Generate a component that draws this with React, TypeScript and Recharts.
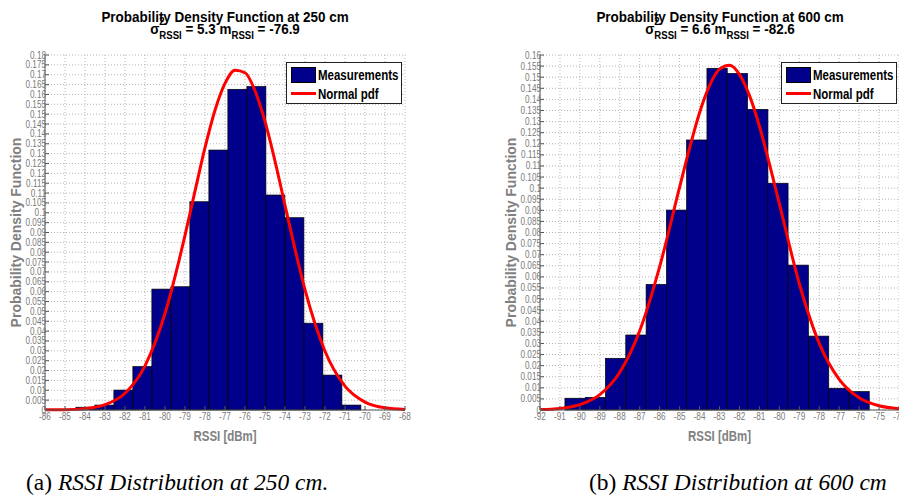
import React from "react";
import { ComposedChart, Bar, Line, XAxis, YAxis, CartesianGrid, Legend } from "recharts";

// 250 cm: histogram bin centres (dBm) and measured density
const binCenters250 = [-83.98, -83.03, -82.08, -81.13, -80.18, -79.23, -78.28, -77.33, -76.38, -75.43, -74.48, -73.53, -72.58, -71.63, -70.68];
const density250 = [0.0014, 0.0025, 0.0101, 0.022, 0.0613, 0.0625, 0.1056, 0.1318, 0.1626, 0.164, 0.109, 0.0975, 0.044, 0.0177, 0.0025];
const binWidth250 = 0.95;

// 250 cm: fitted normal pdf
const pdfX250 = [-86, -85, -84, -83, -82, -81, -80, -79, -78.5, -78, -77.5, -77, -76.5, -76, -75.5, -75, -74.5, -74, -73.5, -73, -72, -71, -70, -69, -68];
const pdfY250 = [0.0001, 0.00015, 0.0007, 0.0027, 0.0085, 0.0224, 0.0489, 0.0885, 0.111, 0.133, 0.152, 0.1656, 0.1723, 0.171, 0.1619, 0.1463, 0.1262, 0.1038, 0.0816, 0.061, 0.0298, 0.0121, 0.004, 0.0011, 0.0003];

// 600 cm
const binCenters600 = [-90.24, -89.22, -88.21, -87.19, -86.17, -85.15, -84.14, -83.12, -82.1, -81.08, -80.07, -79.05, -78.03, -77.02, -76.0];
const density600 = [0.0053, 0.0057, 0.0233, 0.0338, 0.0566, 0.0901, 0.1217, 0.154, 0.1517, 0.1355, 0.1022, 0.0653, 0.0333, 0.0098, 0.0083];
const binWidth600 = 1.0175;

const pdfX600 = [-92, -91, -90, -89, -88, -87, -86, -85, -84.5, -84, -83.5, -83, -82.5, -82, -81.5, -81, -80.5, -80, -79, -78, -77, -76, -75, -74];
const pdfY600 = [0.0002, 0.0007, 0.0024, 0.0069, 0.017, 0.0357, 0.0646, 0.1004, 0.118, 0.134, 0.1462, 0.1536, 0.1554, 0.1513, 0.1418, 0.128, 0.111, 0.093, 0.057, 0.03, 0.0138, 0.0055, 0.0019, 0.0006];

const xTicks250 = [-86, -85, -84, -83, -82, -81, -80, -79, -78, -77, -76, -75, -74, -73, -72, -71, -70, -69, -68];
const xTicks600 = [-92, -91, -90, -89, -88, -87, -86, -85, -84, -83, -82, -81, -80, -79, -78, -77, -76, -75, -74];
const yTicks250 = [0, 0.005, 0.01, 0.015, 0.02, 0.025, 0.03, 0.035, 0.04, 0.045, 0.05, 0.055, 0.06, 0.065, 0.07, 0.075, 0.08, 0.085, 0.09, 0.095, 0.1, 0.105, 0.11, 0.115, 0.12, 0.125, 0.13, 0.135, 0.14, 0.145, 0.15, 0.155, 0.16, 0.165, 0.17, 0.175, 0.18];
const yTicks600 = [0, 0.005, 0.01, 0.015, 0.02, 0.025, 0.03, 0.035, 0.04, 0.045, 0.05, 0.055, 0.06, 0.065, 0.07, 0.075, 0.08, 0.085, 0.09, 0.095, 0.1, 0.105, 0.11, 0.115, 0.12, 0.125, 0.13, 0.135, 0.14, 0.145, 0.15, 0.155, 0.16];

const SANS = "'Liberation Sans', Arial, sans-serif";
const SERIF = "'Liberation Serif', 'DejaVu Serif', serif";

const CHART_H = 450;
const MARGIN = { top: 55, right: 15, bottom: 10, left: 0 };
const Y_AXIS_W = 45;
const NAVY = "#00008b";
const SQUEEZE = 0.82; // matlab figure was squeezed horizontally

const Squeezed = ({ children }: { children: React.ReactNode }) => (
  <span style={{ display: "inline-block", transform: `scaleX(${SQUEEZE})`, transformOrigin: "left center", whiteSpace: "nowrap" }}>{children}</span>
);

const LegendBox = () => (
  <div
    style={{
      boxSizing: "border-box",
      width: 116,
      height: 42,
      border: "1px solid #222",
      background: "#fff",
      padding: "2px 0 0 4px",
      fontFamily: SANS,
      fontWeight: "bold",
      fontSize: 14,
      color: "#000",
      overflow: "hidden",
    }}
  >
    <div style={{ display: "flex", alignItems: "center", height: 19 }}>
      <span style={{ flexShrink: 0, display: "inline-block", width: 23, height: 14, background: NAVY, border: "1px solid #000", marginRight: 2 }} />
      <Squeezed>Measurements</Squeezed>
    </div>
    <div style={{ display: "flex", alignItems: "center", height: 19 }}>
      <span style={{ flexShrink: 0, display: "inline-block", width: 25, height: 3, background: "#ff0000", marginRight: 2 }} />
      <Squeezed>Normal pdf</Squeezed>
    </div>
  </div>
);

const NarrowTick = (props: any) => {
  const { x, y, payload, textAnchor, orientation } = props;
  const dy = orientation === "bottom" ? "0.71em" : "0.35em";
  return (
    <g transform={`translate(${x},${y}) scale(${SQUEEZE},1)`}>
      <text x={0} y={0} dy={dy} textAnchor={textAnchor} fill="#7a7a7a" fontSize={10} fontFamily={SANS}>
        {payload.value}
      </text>
    </g>
  );
};

const YLabel = (props: any) => {
  const vb = props.viewBox;
  const x = vb.x + 21;
  const cy = vb.y + vb.height / 2;
  return (
    <text x={x} y={cy} transform={`rotate(-90 ${x} ${cy})`} textAnchor="middle" fill="#808080" fontWeight="bold" fontSize={14} fontFamily={SANS}>
      Probability Density Function
    </text>
  );
};

const XLabel = (props: any) => {
  const vb = props.viewBox;
  const cx = vb.x + vb.width / 2;
  const y = vb.y + vb.height + 1;
  return (
    <text transform={`translate(${cx},${y}) scale(${SQUEEZE},1)`} textAnchor="middle" fill="#808080" fontWeight="bold" fontSize={14} fontFamily={SANS}>
      RSSI [dBm]
    </text>
  );
};

type PanelProps = {
  left: number;
  width: number;
  centers: number[];
  density: number[];
  binWidth: number;
  pdfX: number[];
  pdfY: number[];
  xTicks: number[];
  yTicks: number[];
  distance: string;
  sigma: string;
  mean: string;
};

const Panel = ({ left, width, centers, density, binWidth, pdfX, pdfY, xTicks, yTicks, distance, sigma, mean }: PanelProps) => {
  const bins = centers.map((c, i) => ({ x: c, density: density[i] }));
  const pdf = pdfX.map((x, i) => ({ x, pdf: pdfY[i] }));
  const xDomain = [xTicks[0], xTicks[xTicks.length - 1]];
  const yDomain = [0, yTicks[yTicks.length - 1]];
  const plotW = width - MARGIN.left - MARGIN.right - Y_AXIS_W;
  const binPx = (binWidth * plotW) / (xDomain[1] - xDomain[0]);

  // histogram bar spans the full bin, centred where recharts puts the bar
  const binShape = (props: any) => {
    const { x, y, width: w, height } = props;
    if (x == null || y == null) return null;
    const cx = x + w / 2;
    return <rect x={cx - binPx / 2} y={y} width={binPx} height={height} fill={NAVY} stroke="#000" strokeWidth={0.7} />;
  };

  const titleCx = MARGIN.left + Y_AXIS_W + plotW / 2;
  const titleStyle: React.CSSProperties = {
    position: "absolute",
    left: titleCx - 150,
    width: 300,
    textAlign: "center",
    fontFamily: SANS,
    fontWeight: "bold",
    fontSize: 14,
    lineHeight: "14px",
    color: "#000",
    whiteSpace: "nowrap",
    transform: "scaleX(0.96)",
  };

  return (
    <div style={{ position: "absolute", left, top: 0, width, height: CHART_H }}>
      <ComposedChart width={width} height={CHART_H} margin={MARGIN} data={bins}>
        <CartesianGrid stroke="#b5b5b5" strokeDasharray="1 2" />
        <XAxis
          dataKey="x"
          type="number"
          domain={xDomain}
          ticks={xTicks}
          interval={0}
          allowDataOverflow
          height={30}
          tickSize={-4}
          tickMargin={7}
          stroke="#555"
          tick={<NarrowTick />}
          label={<XLabel />}
        />
        <XAxis xAxisId="top" orientation="top" type="number" domain={xDomain} ticks={xTicks} interval={0} height={0} tickSize={-4} tick={false} stroke="#555" />
        <YAxis
          type="number"
          domain={yDomain}
          ticks={yTicks}
          interval={0}
          width={Y_AXIS_W}
          tickSize={-4}
          tickMargin={3}
          stroke="#555"
          tick={<NarrowTick />}
          label={<YLabel />}
        />
        <YAxis yAxisId="right" orientation="right" type="number" domain={yDomain} ticks={yTicks} interval={0} width={0} tickSize={-4} tick={false} stroke="#555" />
        <Bar dataKey="density" barSize={10} shape={binShape} isAnimationActive={false} name="Measurements" />
        <Line data={pdf} dataKey="pdf" type="monotone" stroke="#ff0000" strokeWidth={3} dot={false} activeDot={false} isAnimationActive={false} name="Normal pdf" />
        <Legend layout="vertical" align="center" verticalAlign="middle" content={() => <LegendBox />} wrapperStyle={{ top: 62, left: 286, width: 116, height: 42 }} />
      </ComposedChart>
      <div style={{ ...titleStyle, top: 10 }}>Probability Density Function at {distance} cm</div>
      <div style={{ ...titleStyle, top: 22 }}>
        σ
        <span style={{ position: "relative", display: "inline-block" }}>
          <span style={{ position: "absolute", left: 0, top: -7, fontSize: 10 }}>2</span>
          <span style={{ position: "relative", top: 5, fontSize: 10 }}>RSSI</span>
        </span>{" "}
        = {sigma} m<span style={{ position: "relative", top: 5, fontSize: 10 }}>RSSI</span> = {mean}
      </div>
    </div>
  );
};

const captionStyle: React.CSSProperties = {
  position: "absolute",
  top: 470,
  fontFamily: SERIF,
  fontSize: 23,
  lineHeight: "26px",
  color: "#000",
  whiteSpace: "nowrap",
  transform: "scaleX(1.02)",
  transformOrigin: "left center",
};

export default function App() {
  return (
    <div style={{ position: "fixed", left: 0, top: 0, width: 899, height: 503, overflow: "hidden", background: "#fff" }}>
      <Panel
        left={0}
        width={420}
        centers={binCenters250}
        density={density250}
        binWidth={binWidth250}
        pdfX={pdfX250}
        pdfY={pdfY250}
        xTicks={xTicks250}
        yTicks={yTicks250}
        distance="250"
        sigma="5.3"
        mean="-76.9"
      />
      <Panel
        left={495}
        width={419}
        centers={binCenters600}
        density={density600}
        binWidth={binWidth600}
        pdfX={pdfX600}
        pdfY={pdfY600}
        xTicks={xTicks600}
        yTicks={yTicks600}
        distance="600"
        sigma="6.6"
        mean="-82.6"
      />
      <div style={{ ...captionStyle, left: 26 }}>
        (a) <i>RSSI Distribution at 250 cm.</i>
      </div>
      <div style={{ ...captionStyle, left: 589 }}>
        (b) <i>RSSI Distribution at 600 cm</i>
      </div>
    </div>
  );
}
